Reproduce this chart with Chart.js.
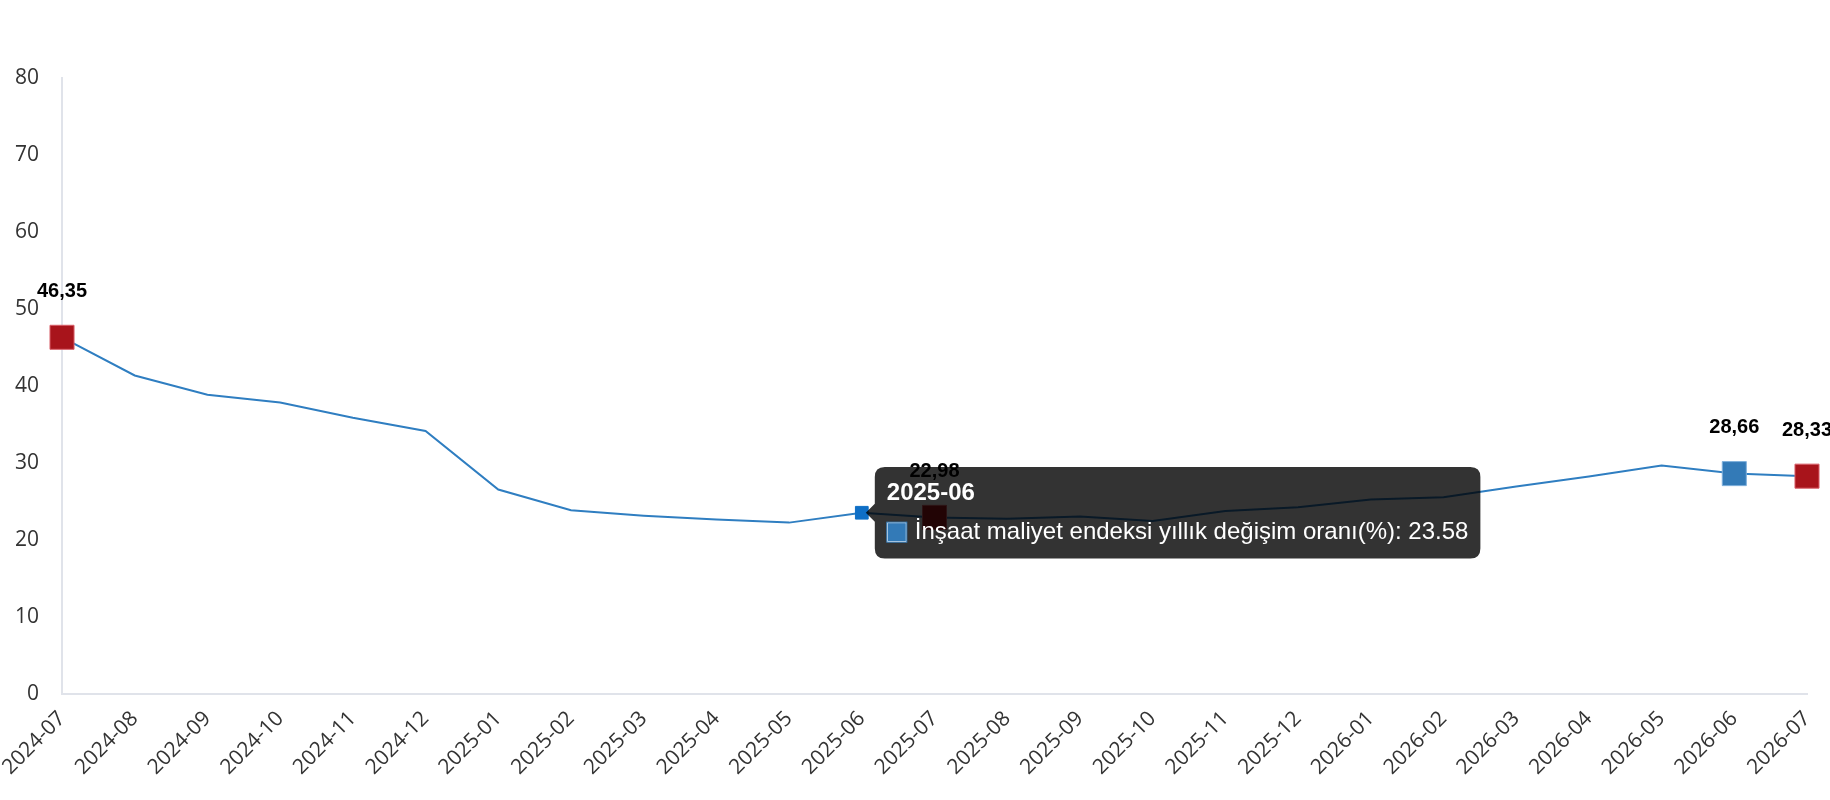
<!DOCTYPE html>
<html lang="tr">
<head>
  <meta charset="UTF-8">
  <title>İnşaat maliyet endeksi yıllık değişim oranı</title>
  <script src="https://cdn.jsdelivr.net/npm/chart.js"></script>
  <style>
    html, body {
      margin: 0;
      padding: 0;
      background-color: #fff;
    }

    #contenedor {
      width: 1830px;
      height: 800px;
      position: relative;
    }
  </style>
</head>
<body>
  <div id="contenedor">
    <canvas id="grafico"></canvas>
  </div>

  <script>
    // Datos
    const meses = [
      '2024-07', '2024-08', '2024-09', '2024-10', '2024-11', '2024-12',
      '2025-01', '2025-02', '2025-03', '2025-04', '2025-05', '2025-06',
      '2025-07', '2025-08', '2025-09', '2025-10', '2025-11', '2025-12',
      '2026-01', '2026-02', '2026-03', '2026-04', '2026-05', '2026-06', '2026-07'
    ];
    const valores = [
      46.35, 41.4, 38.9, 37.9, 35.9, 34.2,
      26.6, 23.9, 23.2, 22.7, 22.3, 23.58,
      22.98, 22.8, 23.1, 22.5, 23.8, 24.3,
      25.3, 25.6, 27.0, 28.3, 29.7, 28.66, 28.33
    ];
    const nombreSerie = 'İnşaat maliyet endeksi yıllık değişim oranı(%)';
    const ticksY = [0, 10, 20, 30, 40, 50, 60, 70, 80];

    // puntos marcados con cuadrado y etiqueta
    const puntosRojos = [0, 12, 24];
    const puntosAzules = [23];
    const puntoActivo = 11;

    const colorLinea = '#2f7ec1';
    const colorRojo = '#a8141b';
    const colorAzul = '#337ab7';

    const esDestacado = i => puntosRojos.includes(i) || puntosAzules.includes(i);

    Chart.defaults.font.family = '"Open Sans", "Noto Sans", sans-serif';

    const etiquetasValor = {
      id: 'etiquetasValor',
      afterDraw(chart) {
        const ctx = chart.ctx;
        const meta = chart.getDatasetMeta(0);
        ctx.save();
        ctx.font = 'bold 20px "Liberation Sans", Arial, sans-serif';
        ctx.fillStyle = '#000';
        ctx.textAlign = 'center';
        ctx.textBaseline = 'middle';
        puntosRojos.concat(puntosAzules).forEach(i => {
          const p = meta.data[i];
          ctx.fillText(valores[i].toFixed(2).replace('.', ','), p.x, p.y - 46);
        });
        ctx.restore();
      }
    };

    const ctx = document.getElementById('grafico').getContext('2d');
    const chart = new Chart(ctx, {
      type: 'line',
      data: {
        labels: meses,
        datasets: [{
          label: nombreSerie,
          data: valores,
          borderColor: colorLinea,
          borderWidth: 2,
          tension: 0,
          fill: false,
          pointStyle: 'rect',
          pointRadius: c => esDestacado(c.dataIndex) ? 17 : 0,
          pointHoverRadius: c => esDestacado(c.dataIndex) ? 17 : 9,
          pointBackgroundColor: c => puntosAzules.includes(c.dataIndex) ? colorAzul : colorRojo,
          pointBorderColor: c => puntosAzules.includes(c.dataIndex) ? '#7fb0dc' : '#d9606a',
          pointBorderWidth: 1,
          pointHoverBackgroundColor: c => esDestacado(c.dataIndex)
            ? (puntosAzules.includes(c.dataIndex) ? colorAzul : colorRojo)
            : '#0f6fc6',
          pointHoverBorderColor: c => esDestacado(c.dataIndex) ? '#d9606a' : '#0f6fc6',
          pointHoverBorderWidth: 1
        }]
      },
      options: {
        responsive: true,
        maintainAspectRatio: false,
        animation: false,
        events: [],
        layout: {
          padding: { top: 78, right: 23, bottom: 16, left: 0 }
        },
        plugins: {
          legend: { display: false },
          tooltip: {
            enabled: true,
            xAlign: 'left',
            yAlign: 'center',
            backgroundColor: 'rgba(0,0,0,0.8)',
            titleColor: '#fff',
            bodyColor: '#fff',
            titleFont: { family: '"Liberation Sans", Arial, sans-serif', size: 24, weight: 'bold' },
            bodyFont: { family: '"Liberation Sans", Arial, sans-serif', size: 24 },
            padding: 12,
            titleMarginBottom: 10,
            cornerRadius: 10,
            caretSize: 9,
            caretPadding: 4,
            boxWidth: 20,
            boxHeight: 20,
            boxPadding: 6,
            callbacks: {
              label: c => c.dataset.label + ': ' + c.raw,
              labelColor: () => ({ borderColor: colorAzul, backgroundColor: colorAzul })
            }
          }
        },
        scales: {
          x: {
            grid: { display: false },
            border: { display: true, color: '#e0e3ea', width: 2 },
            ticks: {
              autoSkip: false,
              minRotation: 45,
              maxRotation: 45,
              color: '#333',
              font: { size: 21 },
              padding: 4
            }
          },
          y: {
            min: ticksY[0],
            max: ticksY[ticksY.length - 1],
            grid: { display: false },
            border: { display: true, color: '#e0e3ea', width: 2 },
            ticks: {
              stepSize: ticksY[1] - ticksY[0],
              color: '#333',
              font: { size: 21 },
              padding: 15
            }
          }
        }
      },
      plugins: [etiquetasValor]
    });

    // tooltip fijo sobre 2025-06 como en la captura
    chart.setActiveElements([{ datasetIndex: 0, index: puntoActivo }]);
    chart.tooltip.setActiveElements([{ datasetIndex: 0, index: puntoActivo }], { x: 0, y: 0 });
    chart.update();
  </script>
</body>
</html>
